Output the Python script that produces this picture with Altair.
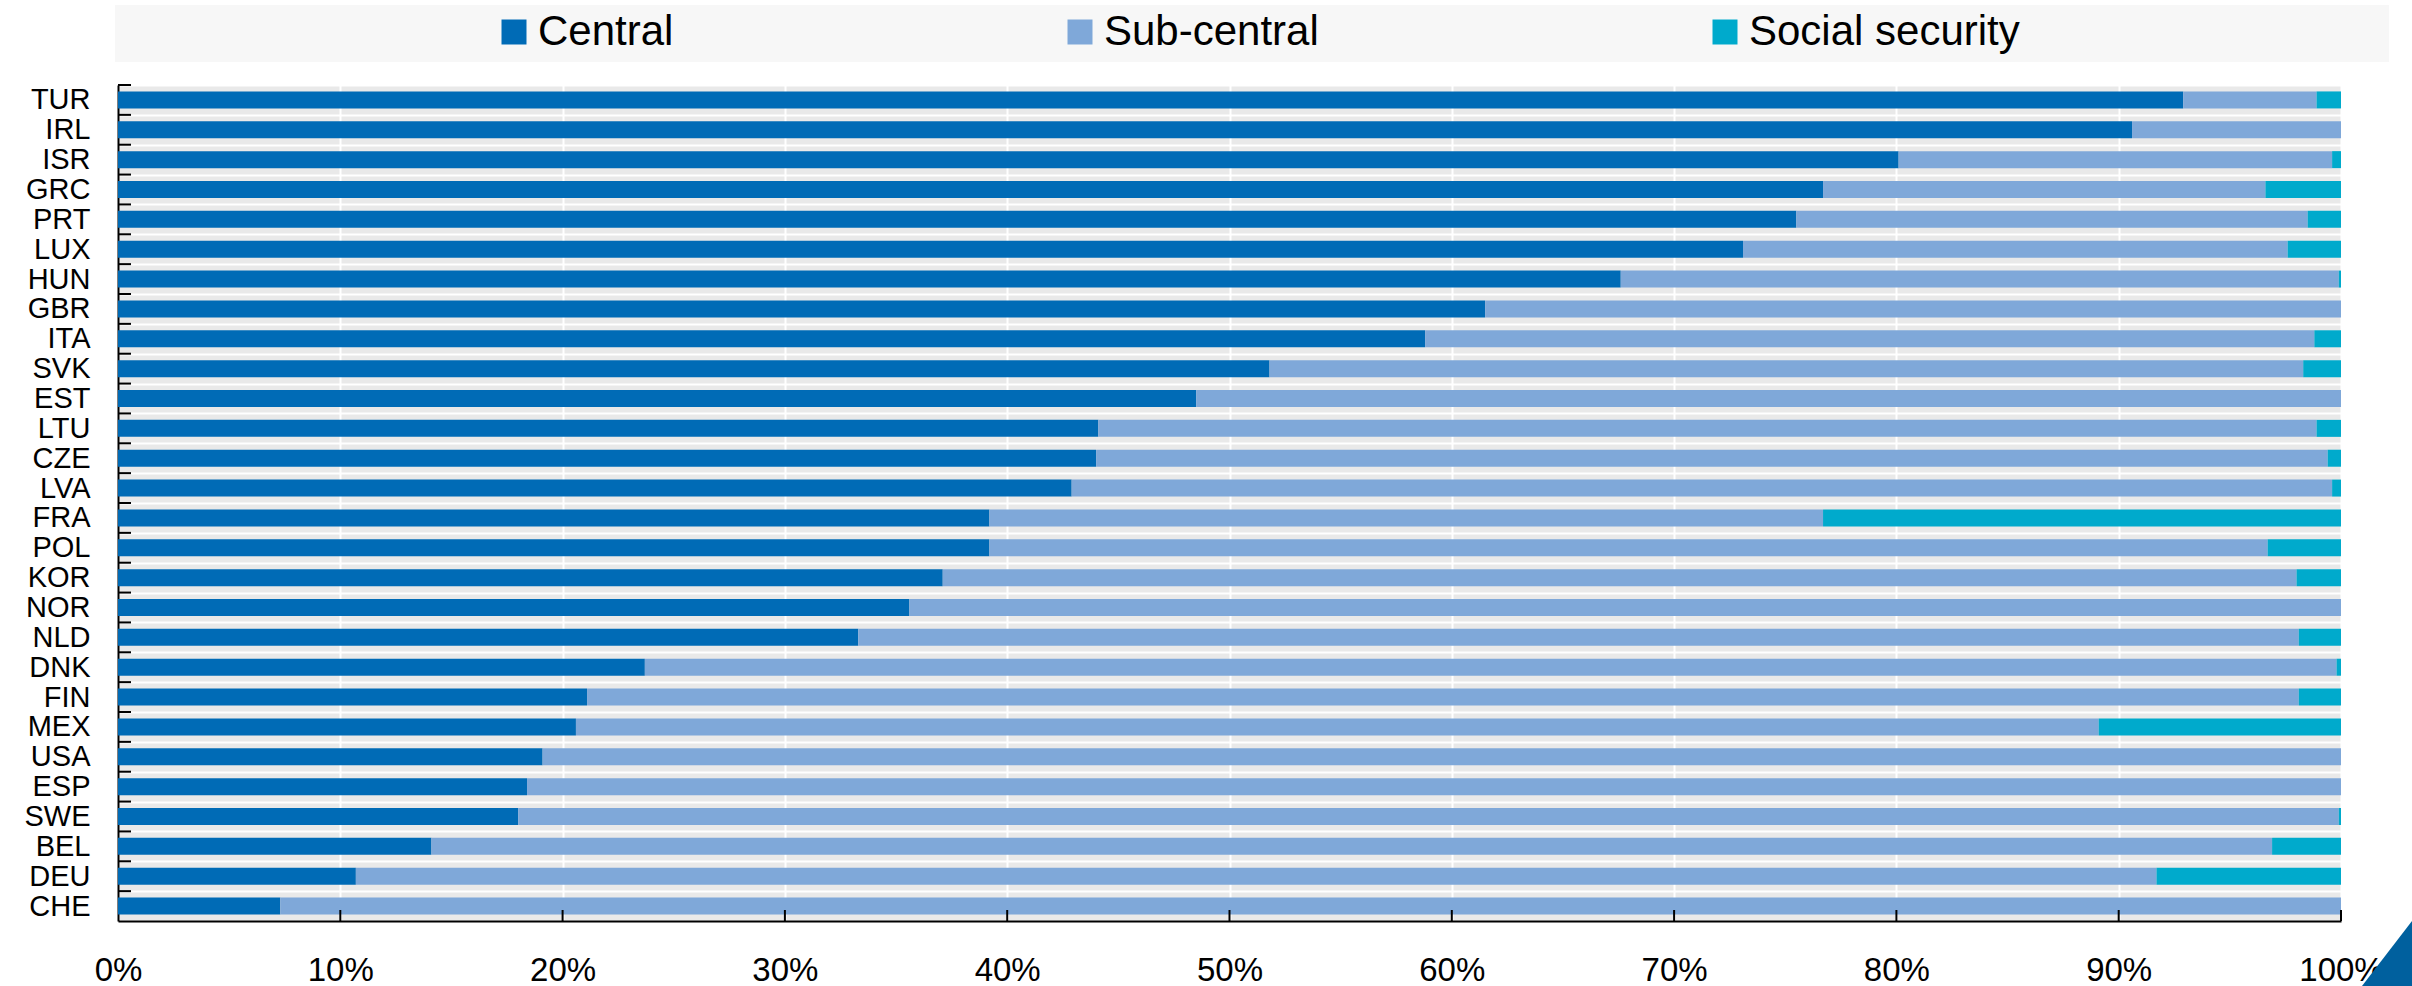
import altair as alt
import pandas as pd

countries = ["TUR", "IRL", "ISR", "GRC", "PRT", "LUX", "HUN", "GBR", "ITA", "SVK",
             "EST", "LTU", "CZE", "LVA", "FRA", "POL", "KOR", "NOR", "NLD", "DNK",
             "FIN", "MEX", "USA", "ESP", "SWE", "BEL", "DEU", "CHE"]
central = [92.9, 90.6, 80.1, 76.7, 75.5, 73.1, 67.6, 61.5, 58.8, 51.8,
           48.5, 44.1, 44.0, 42.9, 39.2, 39.2, 37.1, 35.6, 33.3, 23.7,
           21.1, 20.6, 19.1, 18.4, 18.0, 14.1, 10.7, 7.3]
subcentral = [6.0, 9.4, 19.5, 19.9, 23.0, 24.5, 32.3, 38.5, 40.0, 46.5,
              51.5, 54.8, 55.4, 56.7, 37.5, 57.5, 60.9, 64.4, 64.8, 76.1,
              77.0, 68.5, 80.9, 81.6, 81.9, 82.8, 81.0, 92.7]
social = [1.1, 0.0, 0.4, 3.4, 1.5, 2.4, 0.1, 0.0, 1.2, 1.7,
          0.0, 1.1, 0.6, 0.4, 23.3, 3.3, 2.0, 0.0, 1.9, 0.2,
          1.9, 10.9, 0.0, 0.0, 0.1, 3.1, 8.3, 0.0]
series = ["Central", "Sub-central", "Social security"]
colors = ["#006BB6", "#7FA8D9", "#00AACC"]
x_ticks = [0, 0.1, 0.2, 0.3, 0.4, 0.5, 0.6, 0.7, 0.8, 0.9, 1.0]

rows = []
for i, c in enumerate(countries):
    for j, vals in enumerate([central, subcentral, social]):
        rows.append({"country": c, "series": series[j], "order": j, "value": vals[i] / 100})
df = pd.DataFrame(rows)

W, H = 2223, 836
FONT = "Liberation Sans"

y_enc = alt.Y("country:N", sort=countries,
              scale=alt.Scale(paddingInner=0, paddingOuter=0),
              axis=alt.Axis(title=None, labelFontSize=29, labelFont=FONT, labelColor="black",
                            labelPadding=28, ticks=False, domainColor="black", domainWidth=2,
                            grid=True, gridColor="white", gridWidth=2, tickBand="extent"))

bars = alt.Chart(df).mark_bar(size=17).encode(
    y=y_enc,
    x=alt.X("value:Q", stack="zero", scale=alt.Scale(domain=[0, 1], nice=False),
            axis=alt.Axis(format=".0%", values=x_ticks, title=None, labelFontSize=33,
                          labelFont=FONT, labelColor="black", labelPadding=33, ticks=False,
                          labelFlush=False,
                          grid=True, gridColor="white", gridWidth=2,
                          domainColor="black", domainWidth=2)),
    color=alt.Color("series:N", sort=series, scale=alt.Scale(domain=series, range=colors),
                    legend=alt.Legend(title=None, orient="none", legendX=375, legendY=-74,
                                      direction="horizontal", labelFontSize=42, labelFont=FONT,
                                      labelColor="black", symbolType="square", symbolSize=625,
                                      symbolStrokeWidth=0, symbolOpacity=1, columnPadding=385,
                                      labelOffset=3, padding=0, labelLimit=0)),
    order=alt.Order("order:Q"),
)

one = pd.DataFrame({"k": [0]})
legend_box = alt.Chart(one).mark_rect(color="#F7F7F7").encode(
    x=alt.value(-3), x2=alt.value(2271), y=alt.value(-80), y2=alt.value(-23))

ytick_df = pd.DataFrame({"country": countries})
yticks = alt.Chart(ytick_df).mark_rule(color="black", strokeWidth=2, yOffset=-H / 28 / 2).encode(
    y=alt.Y("country:N", sort=countries), x=alt.value(0), x2=alt.value(13))

xtick_df = pd.DataFrame({"t": x_ticks[1:]})
xticks = alt.Chart(xtick_df).mark_rule(color="black", strokeWidth=2).encode(
    x=alt.X("t:Q"), y=alt.value(H - 11), y2=alt.value(H))

corner = alt.Chart(one).mark_point(
    shape="M 1 -1.3 L 1 1.3 L -1 1.3 Z", filled=True, color="#00609E", opacity=1, size=2500
).encode(x=alt.value(2269), y=alt.value(868.5))

chart = alt.layer(legend_box, bars, yticks, xticks, corner).properties(
    width=W, height=H,
    padding={"left": 118, "top": 85, "right": 71, "bottom": 65},
    autosize=alt.AutoSizeParams(type="none"),
    background="white",
).configure_view(stroke=None, fill="#E9E9E9")

chart.save("out.html", embed_options={"renderer": "svg", "actions": False})
